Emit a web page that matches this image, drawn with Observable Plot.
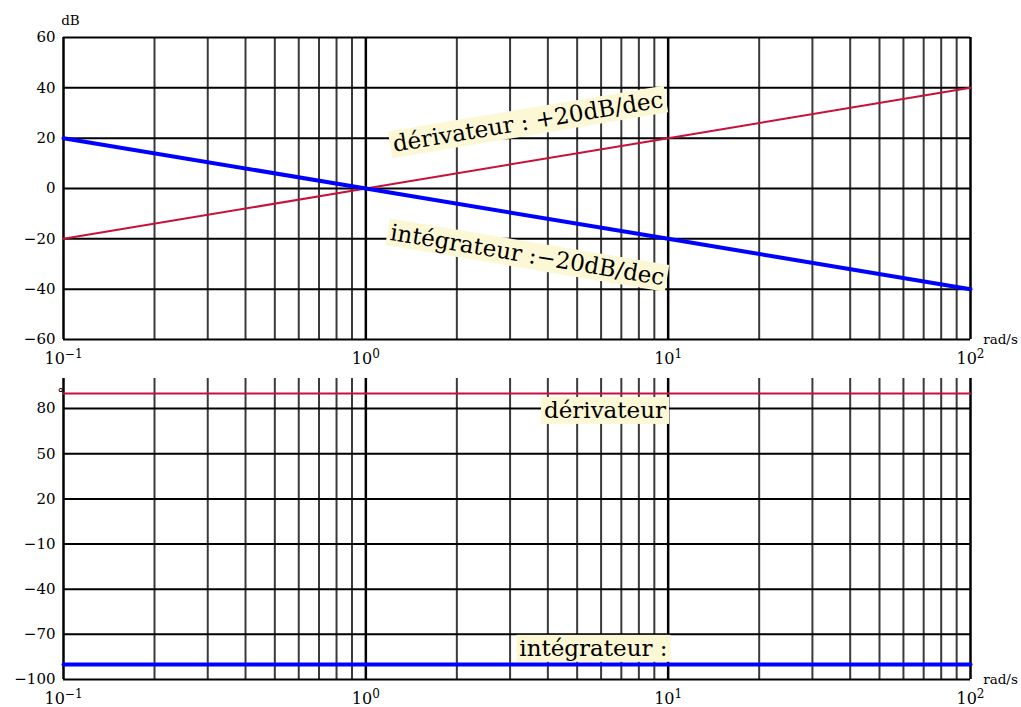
<!DOCTYPE html>
<html><head><meta charset="utf-8">
<script src="https://cdn.jsdelivr.net/npm/d3@7"></script>
<script src="https://cdn.jsdelivr.net/npm/@observablehq/plot@0.6"></script>
<style>body{margin:0;background:#fff} #chart svg{display:block}</style>
</head><body><div id="chart"></div>
<script>
// ---- data ----
const decades = [0.1, 1, 10, 100];
const decadeLabels = ["10^\u22121", "10^0", "10^1", "10^2"];
const minorX = [0.2,0.3,0.4,0.5,0.6,0.7,0.8,0.9, 2,3,4,5,6,7,8,9, 20,30,40,50,60,70,80,90];
const gainTicks = [-60, -40, -20, 0, 20, 40, 60];
const phaseTicks = [-100, -70, -40, -10, 20, 50, 80];
const omega = [0.1, 1, 10, 100];
const gainDeriv = [-20, 0, 20, 40];
const gainInteg = [20, 0, -20, -40];
const phaseDeriv = [90, 90, 90, 90];
const phaseInteg = [-90, -90, -90, -90];
const gainLabelText = ["dérivateur : +20dB/dec", "intégrateur :\u221220dB/dec"];
const gainLabelX = [3.44, 3.42];
const gainLabelY = [26.4, -26.5];
const gainLabelAngle = [-9.45, 9.45];
const phaseLabelText = ["dérivateur", "intégrateur :"];
const phaseLabelX = [6.18, 5.66];
const phaseLabelY = [78.7, -79.4];

const RED = "#c8103c", BLUE = "#0000ff", CREAM = "#fcf7d4";
const fmtY = d => d < 0 ? "\u2212" + (-d) : String(d);
const fmtX = d => decadeLabels[decades.indexOf(d)];

function series(ys) { return omega.map((w, i) => ({w, v: ys[i]})); }

function panel({height, marginTop, marginBottom, ydomain, yticks, lines, labels, yUnit, unitDx, unitDy}) {
  return Plot.plot({
    width: 1021, height, marginTop, marginBottom, marginLeft: 63, marginRight: 51,
    style: {fontFamily: "DejaVu Serif", fontSize: "15px", background: "#fff", overflow: "visible"},
    x: {type: "log", domain: [0.1, 100]},
    y: {domain: ydomain},
    marks: [
      Plot.ruleX(minorX, {stroke: "#3a3a3a", strokeWidth: 2}),
      Plot.ruleY(yticks, {stroke: "#000", strokeWidth: 2}),
      Plot.ruleX(decades, {stroke: "#000", strokeWidth: 2.5}),
      ...lines.map(l => Plot.line(series(l.ys), {x: "w", y: "v", stroke: l.color, strokeWidth: l.width})),
      Plot.text(labels, {x: "x", y: "y", text: "t", rotate: "r", fontSize: 23, fill: "#000", ariaDescription: "label-bg"}),
      Plot.axisX(decades, {tickFormat: fmtX, tickSize: 0, tickPadding: 13, fontSize: 16, label: null}),
      Plot.axisY(yticks, {tickFormat: fmtY, tickSize: 0, tickPadding: 8, fontSize: 15, label: null}),
      Plot.text([{x: 100, y: ydomain[0], t: "rad/s"}], {x: "x", y: "y", text: "t", dx: 30, dy: 0, fontSize: 13.5}),
      Plot.text([{x: 0.1, y: ydomain[1], t: yUnit}], {x: "x", y: "y", text: "t", dx: unitDx, dy: unitDy, fontSize: 13.5})
    ]
  });
}

const gainPlot = panel({
  height: 365, marginTop: 37, marginBottom: 26, ydomain: [-60, 60], yticks: gainTicks,
  lines: [{ys: gainDeriv, color: RED, width: 2}, {ys: gainInteg, color: BLUE, width: 4}],
  labels: gainLabelText.map((t, i) => ({t, x: gainLabelX[i], y: gainLabelY[i], r: gainLabelAngle[i]})),
  yUnit: "dB", unitDx: 7, unitDy: -17
});
const phasePlot = panel({
  height: 342, marginTop: 13, marginBottom: 28, ydomain: [-100, 100], yticks: phaseTicks,
  lines: [{ys: phaseDeriv, color: RED, width: 2}, {ys: phaseInteg, color: BLUE, width: 4}],
  labels: phaseLabelText.map((t, i) => ({t, x: phaseLabelX[i], y: phaseLabelY[i], r: 0})),
  yUnit: "°", unitDx: -3, unitDy: 15
});
const root = document.getElementById("chart");
root.append(gainPlot, phasePlot);

// cream boxes behind the labels
document.querySelectorAll('g[aria-description="label-bg"] text').forEach(t => {
  const b = t.getBBox();
  const r = document.createElementNS("http://www.w3.org/2000/svg", "rect");
  r.setAttribute("x", b.x - 3);
  r.setAttribute("y", b.y);
  r.setAttribute("width", b.width + 6);
  r.setAttribute("height", b.height + 1);
  r.setAttribute("fill", CREAM);
  if (t.getAttribute("transform")) r.setAttribute("transform", t.getAttribute("transform"));
  t.parentNode.insertBefore(r, t);
});
// superscript exponents on the decade tick labels
document.querySelectorAll('g[aria-label="x-axis tick label"] text').forEach(t => {
  const s = t.textContent;
  if (!s.includes("^")) return;
  const [base, exp] = s.split("^");
  t.textContent = "";
  const a = document.createElementNS("http://www.w3.org/2000/svg", "tspan");
  a.textContent = base;
  const e = document.createElementNS("http://www.w3.org/2000/svg", "tspan");
  e.textContent = exp;
  e.setAttribute("dy", "-0.45em");
  e.setAttribute("font-size", "0.75em");
  t.append(a, e);
});
</script>
</body></html>
